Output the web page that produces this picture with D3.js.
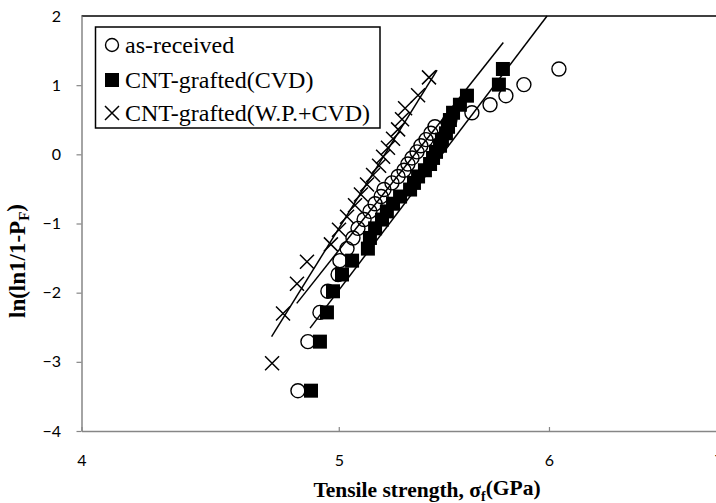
<!DOCTYPE html>
<html>
<head>
<meta charset="utf-8">
<script src="https://cdn.jsdelivr.net/npm/d3@7"></script>
<style>
  body { margin: 0; background: #fff; }
  svg { display: block; }
</style>
</head>
<body>
<div id="canvas"></div>
<script>
// weibull plot data, sigma in GPa, y = ln(ln(1/(1-F)))
var asReceivedX = [4.826, 4.868, 4.919, 4.953, 4.997, 5.005, 5.036, 5.062, 5.084, 5.111,
  5.137, 5.160, 5.187, 5.200, 5.236, 5.264, 5.291, 5.309, 5.328, 5.351,
  5.369, 5.393, 5.416, 5.435, 5.506, 5.612, 5.701, 5.780, 5.871, 6.052];
var cvdX = [4.881, 4.919, 4.949, 4.975, 5.014, 5.058, 5.128, 5.137, 5.160, 5.191,
  5.213, 5.241, 5.273, 5.319, 5.337, 5.356, 5.388, 5.412, 5.426, 5.440,
  5.459, 5.468, 5.487, 5.497, 5.506, 5.521, 5.554, 5.588, 5.745, 5.765];
var rankY30 = [-3.417, -2.708, -2.285, -1.980, -1.737, -1.537, -1.363, -1.209, -1.070, -0.943,
  -0.825, -0.714, -0.610, -0.509, -0.413, -0.320, -0.230, -0.140, -0.052, 0.036,
  0.124, 0.213, 0.304, 0.398, 0.496, 0.601, 0.717, 0.848, 1.008, 1.234];
var wpX = [4.719, 4.764, 4.822, 4.864, 4.966, 5.001, 5.036, 5.071, 5.097, 5.124,
  5.151, 5.178, 5.196, 5.218, 5.241, 5.264, 5.282, 5.296, 5.356, 5.407];
var rankY20 = [-3.020, -2.302, -1.870, -1.554, -1.302, -1.089, -0.903, -0.735, -0.581, -0.436,
  -0.299, -0.166, -0.036, 0.094, 0.225, 0.361, 0.506, 0.666, 0.855, 1.113];

// fitted lines, [sigma, y] end points
var fitWp = [[4.717, -2.637], [5.445, 1.217]];
var fitAsReceived = [[4.821, -2.155], [5.767, 1.617]];
var fitCvd = [[4.877, -2.512], [5.990, 2.0]];

var xTicks = [4, 5, 6, 7];
var yTicks = [-4, -3, -2, -1, 0, 1, 2];
var legendLabels = ['as-received', 'CNT-grafted(CVD)', 'CNT-grafted(W.P.+CVD)'];

var width = 716, height = 503;
var axis_color = '#868686';

var svg = d3.select('#canvas').append('svg')
  .attr('width', width)
  .attr('height', height);

var x = d3.scaleLog().domain([4, 7]).range([81.5, 726.7]);
var y = d3.scaleLinear().domain([-4, 2]).range([431, 16]);

// top frame line
svg.append('line')
  .attr('x1', x(4)).attr('x2', width)
  .attr('y1', y(2)).attr('y2', y(2))
  .attr('stroke', '#000').attr('stroke-width', 1.5);

var yAxis = svg.append('g')
  .attr('transform', 'translate(' + x(4) + ',0)')
  .call(d3.axisLeft(y).tickValues(yTicks).tickSize(5).tickSizeOuter(0).tickPadding(15.5).tickFormat(d3.format('d')));

var xAxis = svg.append('g')
  .attr('transform', 'translate(0,' + y(-4) + ')')
  .call(d3.axisBottom(x).tickValues(xTicks).tickSize(-4).tickSizeOuter(0).tickPadding(24).tickFormat(d3.format('d')));

[yAxis, xAxis].forEach(function(g) {
  g.select('.domain').attr('stroke', axis_color).attr('stroke-width', 1.5);
  g.selectAll('.tick line').attr('stroke', axis_color).attr('stroke-width', 1.2);
  g.selectAll('.tick text')
    .attr('fill', '#000')
    .style('font-family', 'Lato, "Open Sans", sans-serif')
    .style('font-size', '16px');
});
yAxis.selectAll('.tick').filter(function(d) { return d == 2; }).select('line').remove();
// the last label sits on the picture's right edge, only its left part shows
xAxis.selectAll('.tick').filter(function(d) { return d == 7; }).select('text').attr('dx', -8);

// markers
var circles = svg.append('g');
circles.selectAll('circle')
  .data(asReceivedX)
  .enter().append('circle')
  .attr('cx', function(d) { return x(d); })
  .attr('cy', function(d, i) { return y(rankY30[i]); })
  .attr('r', 7)
  .attr('fill', 'none')
  .attr('stroke', '#000')
  .attr('stroke-width', 1.4);

var squares = svg.append('g');
squares.selectAll('rect')
  .data(cvdX)
  .enter().append('rect')
  .attr('x', function(d) { return x(d) - 7; })
  .attr('y', function(d, i) { return y(rankY30[i]) - 7; })
  .attr('width', 14)
  .attr('height', 14)
  .attr('fill', '#000');

var crosses = svg.append('g');
crosses.selectAll('path')
  .data(wpX)
  .enter().append('path')
  .attr('transform', function(d, i) { return 'translate(' + x(d) + ',' + y(rankY20[i]) + ')'; })
  .attr('d', 'M-7,-7L7,7M-7,7L7,-7')
  .attr('fill', 'none')
  .attr('stroke', '#000')
  .attr('stroke-width', 1.5);

// fit lines
var line = d3.line()
  .x(function(d) { return x(d[0]); })
  .y(function(d) { return y(d[1]); });

[fitWp, fitAsReceived, fitCvd].forEach(function(f) {
  svg.append('path')
    .attr('d', line(f))
    .attr('fill', 'none')
    .attr('stroke', '#000')
    .attr('stroke-width', 1.5);
});

// legend
var legend = svg.append('g');
legend.append('rect')
  .attr('x', 95.5).attr('y', 27)
  .attr('width', 284.5).attr('height', 101)
  .attr('fill', '#fff')
  .attr('stroke', '#000')
  .attr('stroke-width', 1.5);

var rowY = [45, 80, 113];
legendLabels.forEach(function(label, i) {
  var g = legend.append('g').attr('transform', 'translate(112,' + rowY[i] + ')');
  if (i == 0) {
    g.append('circle').attr('r', 6.5).attr('fill', 'none').attr('stroke', '#000').attr('stroke-width', 1.4);
  } else if (i == 1) {
    g.append('rect').attr('x', -7).attr('y', -7).attr('width', 14).attr('height', 14).attr('fill', '#000');
  } else {
    g.append('path').attr('d', 'M-7,-7L7,7M-7,7L7,-7').attr('stroke', '#000').attr('stroke-width', 1.5);
  }
  g.append('text')
    .attr('x', 13)
    .attr('dy', '0.35em')
    .style('font-family', '"Liberation Serif", "Times New Roman", serif')
    .style('font-size', '24px')
    .text(label);
});

// axis titles
var xTitle = svg.append('text')
  .attr('x', 427).attr('y', 497)
  .attr('text-anchor', 'middle')
  .style('font-family', '"Liberation Serif", "Times New Roman", serif')
  .style('font-size', '21.5px')
  .style('font-weight', 'bold');
xTitle.append('tspan').text('Tensile strength, σ');
xTitle.append('tspan').attr('dy', '0.25em').style('font-size', '14px').text('f');
xTitle.append('tspan').attr('dy', '-0.25em').text('(GPa)');

var yTitle = svg.append('text')
  .attr('transform', 'translate(25,261) rotate(-90)')
  .attr('text-anchor', 'middle')
  .style('font-family', '"Liberation Serif", "Times New Roman", serif')
  .style('font-size', '23px')
  .style('font-weight', 'bold');
yTitle.append('tspan').text('ln(ln1/1-P');
yTitle.append('tspan').attr('dy', '0.25em').style('font-size', '15px').text('F');
yTitle.append('tspan').attr('dy', '-0.25em').text(')');
</script>
</body>
</html>
